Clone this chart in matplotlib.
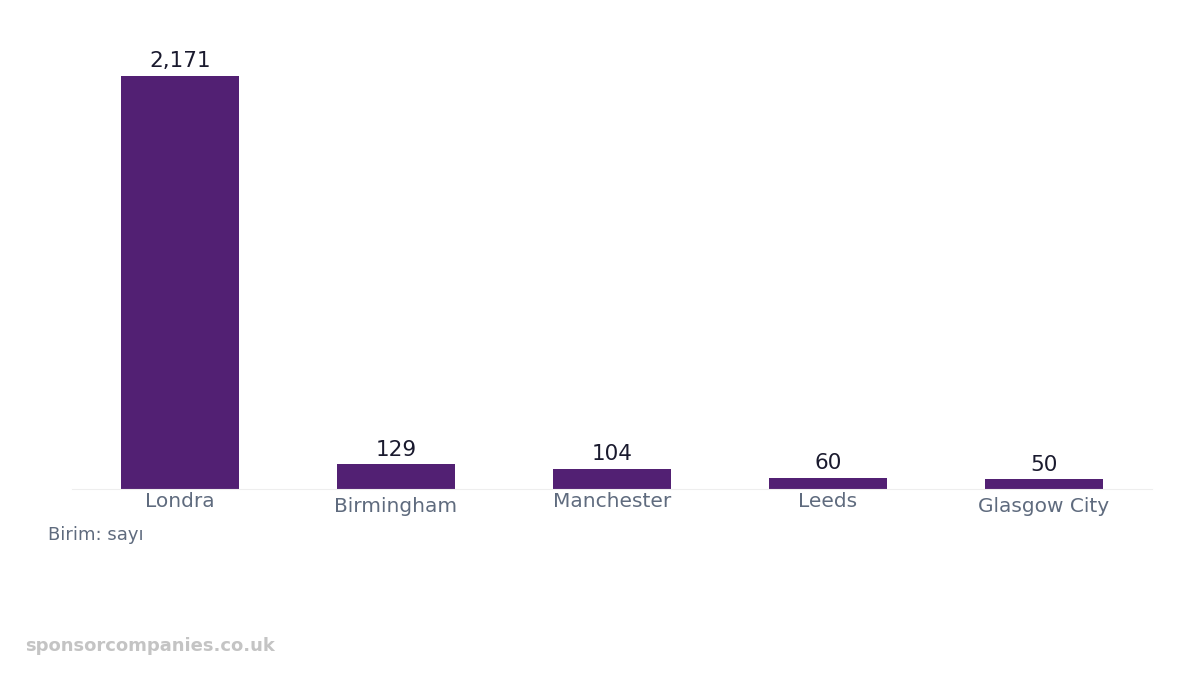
import matplotlib
matplotlib.use("Agg")
import matplotlib.pyplot as plt

categories = ["Londra", "Birmingham", "Manchester", "Leeds", "Glasgow City"]
values = [2171, 129, 104, 60, 50]
label_offsets = [0, 4, 0, 0, 4]

fig = plt.figure(figsize=(12, 6.75), dpi=100)
ax = fig.add_axes([0.06, 1 - 489/675, 0.90, (489 - 51.5)/675])
x = list(range(len(categories)))
ax.bar(x, values, width=0.55, color="#522073")
ax.set_xlim(-0.5, len(categories) - 0.5)
ax.set_ylim(0, 2300)
for xi, v in zip(x, values):
    ax.text(xi, v + 25, f"{v:,}", ha="center", va="bottom", fontsize=15.5, color="#1a1a2e")
ax.set_xticks([])
ax.set_yticks([])
for s in ["top", "right", "left"]:
    ax.spines[s].set_visible(False)
ax.spines["bottom"].set_color("#eeeeee")
for xi, c, off in zip(x, categories, label_offsets):
    ax.annotate(c, (xi, 0), xytext=(0, -2 - off), textcoords="offset points",
                ha="center", va="top", fontsize=14.5, color="#5f6b7e")
fig.text(48/1200, 1 - 535/675, "Birim: sayı", fontsize=13, color="#5f6b7e", va="center")
fig.text(25/1200, 1 - 646/675, "sponsorcompanies.co.uk", fontsize=13, color="#c4c4c4",
         fontweight="bold", va="center")
fig.savefig("out.png", dpi=100)
